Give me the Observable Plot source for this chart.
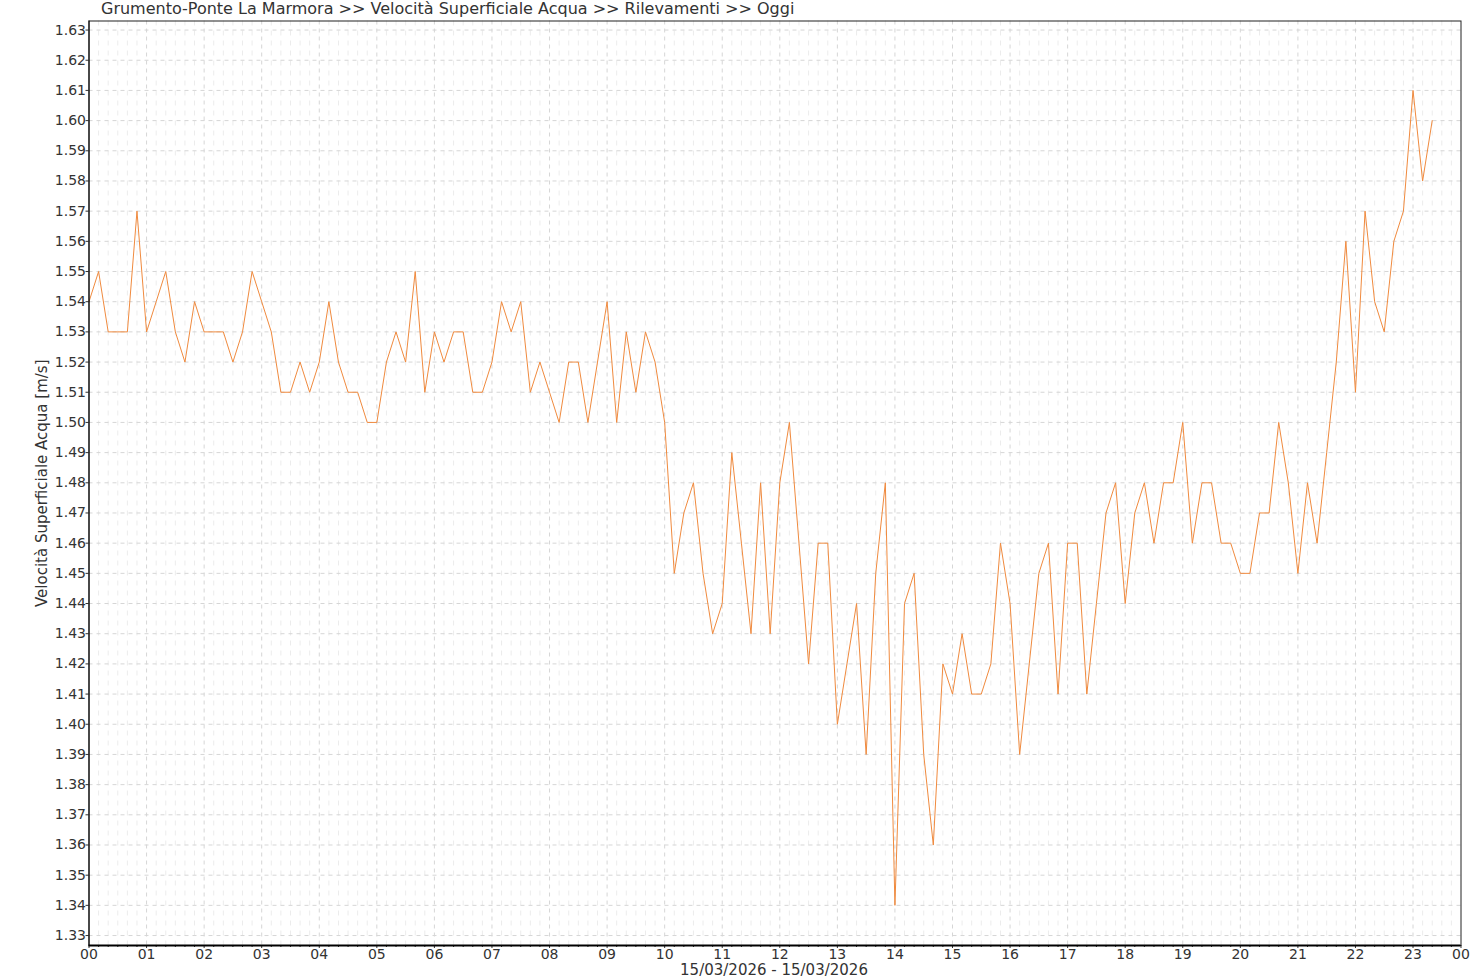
<!DOCTYPE html>
<html>
<head>
<meta charset="utf-8">
<script src="https://cdn.jsdelivr.net/npm/d3@7"></script>
<script src="https://cdn.jsdelivr.net/npm/@observablehq/plot@0.6"></script>
<style>
  html, body { margin: 0; padding: 0; background: #fff; }
  #wrap { position: relative; width: 1480px; height: 980px; font-family: "DejaVu Sans", sans-serif; color: #333; }
  #title { position: absolute; left: 101px; top: 0px; font-size: 16px; line-height: 18px; white-space: nowrap; }
  #date { position: absolute; left: 88px; width: 1372px; top: 962px; text-align: center; font-size: 15px; line-height: 17px; }
  #chart { position: absolute; left: 0; top: 0; }
</style>
</head>
<body>
<div id="wrap">
  <div id="chart"></div>
  <div id="title"></div>
  <div id="date"></div>
</div>
<script>
const titleText = "Grumento-Ponte La Marmora >> Velocità Superficiale Acqua >> Rilevamenti >> Oggi";
const yLabel = "Velocità Superficiale Acqua [m/s]";
const dateLabel = "15/03/2026 - 15/03/2026";
const startTime = "2026-03-15T00:00:00Z";
const endTime = "2026-03-15T23:50:00Z";
const stepMinutes = 10;

// readings every 10 minutes from 00:00
const values = [
  1.54, 1.55, 1.53, 1.53, 1.53, 1.57, 1.53, 1.54, 1.55, 1.53, 1.52, 1.54, 1.53, 1.53, 1.53, 1.52, 1.53, 1.55, 1.54, 1.53, 1.51, 1.51, 1.52, 1.51, 1.52, 1.54,
  1.52, 1.51, 1.51, 1.50, 1.50, 1.52, 1.53, 1.52, 1.55, 1.51, 1.53, 1.52, 1.53, 1.53, 1.51, 1.51, 1.52, 1.54, 1.53, 1.54, 1.51, 1.52, 1.51, 1.50,
  1.52, 1.52, 1.50, 1.52, 1.54, 1.50, 1.53, 1.51, 1.53, 1.52, 1.50, 1.45, 1.47, 1.48, 1.45, 1.43, 1.44, 1.49, 1.46, 1.43, 1.48, 1.43, 1.48,
  1.50, 1.46, 1.42, 1.46, 1.46, 1.40, 1.42, 1.44, 1.39, 1.45, 1.48, 1.34, 1.44, 1.45, 1.39, 1.36, 1.42, 1.41, 1.43, 1.41, 1.41, 1.42, 1.46,
  1.44, 1.39, 1.42, 1.45, 1.46, 1.41, 1.46, 1.46, 1.41, 1.44, 1.47, 1.48, 1.44, 1.47, 1.48, 1.46, 1.48, 1.48, 1.50, 1.46, 1.48, 1.48, 1.46, 1.46,
  1.45, 1.45, 1.47, 1.47, 1.50, 1.48, 1.45, 1.48, 1.46, 1.49, 1.52, 1.56, 1.51, 1.57, 1.54, 1.53, 1.56, 1.57, 1.61, 1.58, 1.60
];

const yTicks = [1.33, 1.34, 1.35, 1.36, 1.37, 1.38, 1.39, 1.40, 1.41, 1.42, 1.43, 1.44, 1.45, 1.46, 1.47, 1.48, 1.49, 1.50, 1.51, 1.52, 1.53, 1.54, 1.55, 1.56, 1.57, 1.58, 1.59, 1.60, 1.61, 1.62, 1.63];
const xTickLabels = ["00","01","02","03","04","05","06","07","08","09","10","11","12","13","14","15","16","17","18","19","20","21","22","23","00"];
const yDomain = [1.3267, 1.633];

document.getElementById("title").textContent = titleText;
document.getElementById("date").textContent = dateLabel;

const t0 = new Date(startTime);
const tEnd = new Date(endTime);
const data = values.map((v, i) => ({ time: new Date(+t0 + i * stepMinutes * 60000), value: v }));

const hourTicks = d3.utcHour.range(t0, tEnd).concat([tEnd]);
const minorTicks = d3.utcMinute.every(stepMinutes).range(t0, tEnd).filter(d => d.getUTCMinutes() !== 0);
const labelFor = d => xTickLabels[hourTicks.findIndex(t => +t === +d)];

const chart = Plot.plot({
  width: 1480,
  height: 980,
  marginLeft: 88.5,
  marginRight: 19.5,
  marginTop: 20.5,
  marginBottom: 35,
  style: { fontFamily: "DejaVu Sans, sans-serif", fontSize: "14px", color: "#333", background: "#fff" },
  x: { type: "utc", domain: [t0, tEnd] },
  y: { domain: yDomain },
  marks: [
    Plot.ruleX(minorTicks, { stroke: "#ececec", strokeDasharray: "5,5" }),
    Plot.ruleX(hourTicks.slice(1, -1), { stroke: "#d6d6d6", strokeDasharray: "4,4" }),
    Plot.ruleY(yTicks, { stroke: "#d6d6d6", strokeDasharray: "4,4" }),
    Plot.line(data, { x: "time", y: "value", stroke: "#f08a3e", strokeWidth: 1 }),
    Plot.axisY(yTicks, {
      tickFormat: d => d.toFixed(2),
      tickSize: 3,
      tickPadding: 0,
      fontSize: 14,
      label: null
    }),
    Plot.text([yLabel], {
      frameAnchor: "left",
      rotate: -90,
      dx: -47,
      fontSize: 15,
      fill: "#333",
      textAnchor: "middle"
    }),
    Plot.axisX(minorTicks, { tickSize: 2, text: null, label: null }),
    Plot.axisX(hourTicks, {
      tickFormat: labelFor,
      tickSize: 3,
      tickPadding: 1,
      fontSize: 14,
      label: null
    }),
    Plot.frame({ stroke: "#222" }),
    Plot.ruleY([yDomain[0]], { stroke: "#000", strokeWidth: 2 }),
    Plot.ruleX([t0], { stroke: "#000", strokeWidth: 1 })
  ]
});
document.getElementById("chart").appendChild(chart);
</script>
</body>
</html>
